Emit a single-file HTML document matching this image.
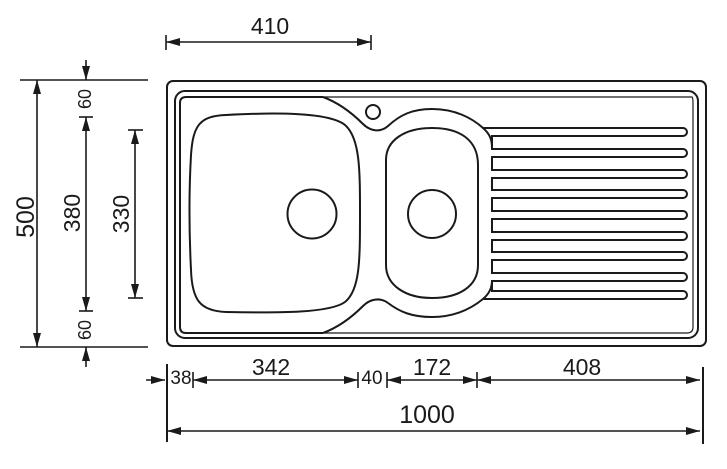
<!DOCTYPE html>
<html><head><style>html,body{margin:0;padding:0;background:#fff}svg{display:block}</style></head>
<body>
<svg width="727" height="469" viewBox="0 0 727 469" xmlns="http://www.w3.org/2000/svg" font-family="Liberation Sans, sans-serif" fill="none" stroke="#1a1a1a">
<defs>
<marker id="a" viewBox="0 0 14 8" refX="14" refY="4" markerWidth="14" markerHeight="8" markerUnits="userSpaceOnUse" orient="auto-start-reverse"><path d="M0,0 L14,4 L0,8 z" fill="#1a1a1a" stroke="none"/></marker>
</defs>
<!-- sink body -->
<rect x="167" y="81" width="539" height="265" rx="6" stroke-width="2"/>
<rect x="175" y="91" width="523" height="247" rx="10" stroke-width="2"/>
<path d="M323,97 L186,97 Q180,97 180,103 L180,327 Q180,333 186,333 L323,333" stroke-width="2"/>
<path d="M323,97 L692,97 Q693,97 693,103 L693,327 Q693,333 687,333 L323,333" stroke-width="1.2"/>
<!-- big bowl -->
<path d="M226,115 C280,112 330,113 345,125 C360,138 360,170 360,214 C360,260 360,290 345,302 C330,313 280,313 226,312 C200,311 192,300 191,270 C189,230 189,190 191,155 C193,125 200,116 226,115 Z" stroke-width="2"/>
<circle cx="312" cy="214" r="24.5" stroke-width="2"/>
<!-- small bowl -->
<path d="M432,128 C460,128 478,140 478,165 L478,265 C478,287 458,298 432,298 C405,298 386,285 386,265 L386,160 C386,140 405,128 432,128 Z" stroke-width="2"/>
<circle cx="432" cy="214" r="24" stroke-width="2"/>
<circle cx="373" cy="112" r="7" stroke-width="2"/>
<!-- contour -->
<path d="M323,97 C342,104 355,116 363,124 C370,131 380,133 388,126 C400,115 412,109 432,109 C455,109 472,118 483,128 L683,128" stroke-width="2"/>
<path d="M323,333 C342,326 355,314 363,306 C370,299 380,297 388,303 C400,312 412,317 432,317 C455,317 472,308 483,299 L683,299" stroke-width="2"/>
<path d="M483,128 C490,134 492,140 492,148 M483,299 C490,293 492,287 492,280" stroke-width="2"/>
<!-- ribs -->
<g stroke-width="2">
<path d="M683,128 A4,4 0 0 1 683,136 L492,136 L492,149 L683,149 A4,4 0 0 1 683,157 L492,157 L492,170 L683,170 A4,4 0 0 1 683,178 L492,178 L492,190 L683,190 A4,4 0 0 1 683,198 L492,198 L492,211 L683,211 A4,4 0 0 1 683,219 L492,219 L492,232 L683,232 A4,4 0 0 1 683,240 L492,240 L492,252 L683,252 A4,4 0 0 1 683,260 L492,260 L492,273 L683,273 A4,4 0 0 1 683,281 L492,281 L492,291 L683,291 A4,4 0 0 1 683,299"/>
</g>
<!-- dimensions -->
<g stroke-width="1.6">
<line x1="166" y1="35" x2="166" y2="50"/><line x1="371" y1="35" x2="371" y2="50"/>
<line x1="166" y1="42" x2="371" y2="42" marker-start="url(#a)" marker-end="url(#a)"/>
<line x1="20" y1="80" x2="148" y2="80"/><line x1="20" y1="347" x2="148" y2="347"/>
<line x1="37" y1="80" x2="37" y2="347" marker-start="url(#a)" marker-end="url(#a)"/>
<line x1="86" y1="60" x2="86" y2="80" marker-end="url(#a)"/>
<line x1="86" y1="367" x2="86" y2="347" marker-end="url(#a)"/>
<line x1="79" y1="117" x2="93" y2="117"/><line x1="79" y1="311" x2="93" y2="311"/>
<line x1="86" y1="117" x2="86" y2="311" marker-start="url(#a)" marker-end="url(#a)"/>
<line x1="128" y1="130" x2="143" y2="130"/><line x1="128" y1="298" x2="143" y2="298"/>
<line x1="135" y1="130" x2="135" y2="298" marker-start="url(#a)" marker-end="url(#a)"/>
<line x1="167" y1="364" x2="167" y2="442" stroke-width="2"/>
<line x1="703" y1="367" x2="703" y2="444" stroke-width="2"/>
<line x1="146" y1="380" x2="165" y2="380" marker-end="url(#a)"/>
<line x1="193" y1="372" x2="193" y2="388"/><line x1="358" y1="372" x2="358" y2="388"/>
<line x1="387" y1="372" x2="387" y2="388"/><line x1="477" y1="372" x2="477" y2="388"/>
<line x1="193" y1="380" x2="358" y2="380" marker-start="url(#a)" marker-end="url(#a)"/>
<line x1="387" y1="380" x2="477" y2="380" marker-start="url(#a)" marker-end="url(#a)"/>
<line x1="477" y1="380" x2="700" y2="380" marker-start="url(#a)" marker-end="url(#a)"/>
<line x1="167" y1="431" x2="700" y2="431" marker-start="url(#a)" marker-end="url(#a)"/>
</g>
<g fill="#1a1a1a" stroke="none" text-anchor="middle">
<text x="270" y="34" font-size="23">410</text>
<text x="271" y="375" font-size="23">342</text>
<text x="181" y="384" font-size="19">38</text>
<text x="372" y="384" font-size="19">40</text>
<text x="432" y="375" font-size="23">172</text>
<text x="582" y="375" font-size="23">408</text>
<text x="427" y="423" font-size="25">1000</text>
<text transform="translate(34,217) rotate(-90)" font-size="25">500</text>
<text transform="translate(80,213) rotate(-90)" font-size="23">380</text>
<text transform="translate(129,214) rotate(-90)" font-size="23">330</text>
<text transform="translate(91,99) rotate(-90)" font-size="18">60</text>
<text transform="translate(91,330) rotate(-90)" font-size="18">60</text>
</g>
</svg>
</body></html>
